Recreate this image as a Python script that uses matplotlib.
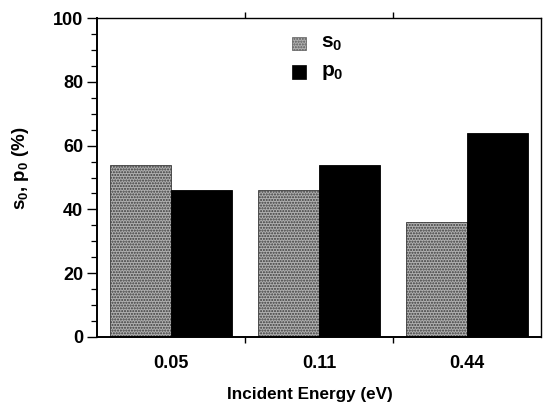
#!/usr/bin/env python3
"""Bar chart of s0 / p0 branching fractions versus incident energy."""

import matplotlib

matplotlib.use("Agg")
import matplotlib.pyplot as plt
import numpy as np
from matplotlib.patches import Rectangle
from matplotlib.ticker import MultipleLocator, FixedLocator

energies = ["0.05", "0.11", "0.44"]
s0 = [54, 46, 36]
p0 = [46, 54, 64]

plt.rcParams["font.family"] = ["Liberation Sans", "DejaVu Sans"]
plt.rcParams["font.weight"] = "bold"
plt.rcParams["mathtext.fontset"] = "custom"
plt.rcParams["mathtext.rm"] = "Liberation Sans:bold"
plt.rcParams["mathtext.it"] = "Liberation Sans:bold"
plt.rcParams["mathtext.bf"] = "Liberation Sans:bold"
plt.rcParams["mathtext.default"] = "rm"
plt.rcParams["hatch.color"] = "#202020"
plt.rcParams["hatch.linewidth"] = 1.0

S_FACE = "#b0b0b0"
S_HATCH = "......"


def main():
    fig = plt.figure(figsize=(5.45, 4.03), dpi=100)
    ax = fig.add_axes([0.178, 0.164, 0.815, 0.791])

    x = np.arange(len(energies))
    w = 0.41
    ax.bar(x - w / 2, s0, w, color=S_FACE, hatch=S_HATCH,
           edgecolor="#3a3a3a", linewidth=0.6)
    ax.bar(x + w / 2, p0, w, color="black", edgecolor="black", linewidth=0.6)

    ax.set_xlim(-0.5, 2.5)
    ax.set_ylim(0, 100)

    ax.set_xticks(x)
    ax.set_xticklabels(energies, fontsize=13, fontweight="bold")
    ax.xaxis.set_minor_locator(FixedLocator([0.5, 1.5]))
    ax.tick_params(axis="x", which="major", length=0, pad=13)
    ax.tick_params(axis="x", which="minor", length=4, width=1.0,
                   direction="out", top=True)

    ax.yaxis.set_major_locator(MultipleLocator(20))
    ax.yaxis.set_minor_locator(MultipleLocator(5))
    ax.tick_params(axis="y", which="major", length=7, width=1.0,
                   direction="out", labelsize=13, pad=3)
    ax.tick_params(axis="y", which="minor", length=4, width=0.9,
                   direction="out")
    for lab in ax.get_yticklabels():
        lab.set_fontweight("bold")

    for side in ["left", "bottom"]:
        ax.spines[side].set_linewidth(1.4)
    for side in ["top", "right"]:
        ax.spines[side].set_linewidth(1.0)

    ax.set_xlabel("Incident Energy (eV)", fontsize=12.3, fontweight="bold")
    ax.xaxis.set_label_coords(0.48, -0.158)
    ax.set_ylabel(r"s$_0$, p$_0$ (%)", fontsize=13.5, fontweight="bold")
    ax.yaxis.set_label_coords(-0.148, 0.53)

    # hand-placed key in the upper middle of the plot
    keys = [("s", S_FACE, S_HATCH, "#5a5a5a", 0.92),
            ("p", "black", None, "black", 0.83)]
    for name, face, hatch, edge, ky in keys:
        ax.add_patch(Rectangle((0.44, ky - 0.02), 0.03, 0.042,
                               transform=ax.transAxes, facecolor=face,
                               hatch=hatch, edgecolor=edge, linewidth=0.5,
                               clip_on=False))
        ax.text(0.505, ky, name + r"$_0$", transform=ax.transAxes,
                fontsize=15, fontweight="bold", va="center", ha="left")

    fig.savefig("out.png", dpi=100)


if __name__ == "__main__":
    main()
